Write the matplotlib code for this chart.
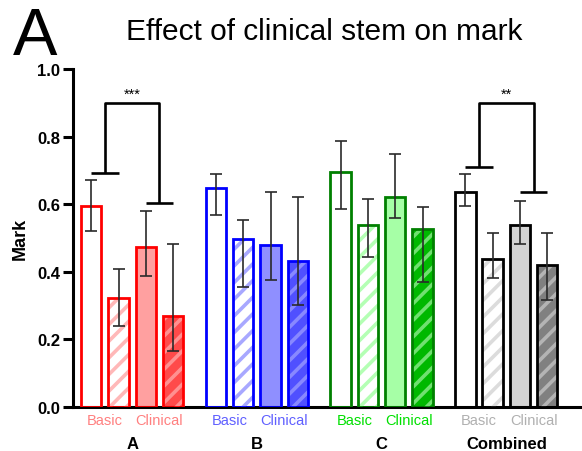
import matplotlib.pyplot as plt
import matplotlib.transforms as mtransforms

plt.rcParams['font.family'] = ['Liberation Sans', 'DejaVu Sans']
plt.rcParams['hatch.linewidth'] = 2.6

groups = ['A', 'B', 'C', 'Combined']
sub_labels = ['Basic', 'Clinical']

# bar heights (4 bars per group) and error bar ends
mean_a = [0.594, 0.322, 0.473, 0.268]
mean_b = [0.649, 0.497, 0.479, 0.433]
mean_c = [0.696, 0.538, 0.621, 0.527]
mean_comb = [0.637, 0.438, 0.538, 0.420]

upper_a = [0.670, 0.408, 0.581, 0.483]
upper_b = [0.689, 0.552, 0.636, 0.622]
upper_c = [0.787, 0.614, 0.749, 0.591]
upper_comb = [0.688, 0.516, 0.610, 0.516]

lower_a = [0.522, 0.240, 0.387, 0.166]
lower_b = [0.567, 0.356, 0.377, 0.303]
lower_c = [0.586, 0.443, 0.560, 0.369]
lower_comb = [0.595, 0.382, 0.481, 0.317]

means = [mean_a, mean_b, mean_c, mean_comb]
uppers = [upper_a, upper_b, upper_c, upper_comb]
lowers = [lower_a, lower_b, lower_c, lower_comb]

# styles per group: edge, fills for bars 1..4, hatch colours, label colour
edge_cols = ['#FF0000', '#0000FF', '#008000', '#000000']
fill_cols = [
    ['white', 'white', '#FFA0A0', '#FF4A4A'],
    ['white', 'white', '#8F8FFF', '#5050FF'],
    ['white', 'white', '#A6FFA6', '#00B800'],
    ['white', 'white', '#D3D3D3', '#808080'],
]
hatch_cols = [
    [None, '#FFB8B8', None, '#FF9090'],
    [None, '#A8A8FF', None, '#8888FF'],
    [None, '#B4FFB4', None, '#70E070'],
    [None, '#DCDCDC', None, '#B4B4B4'],
]
label_cols = ['#FF8080', '#6060FF', '#00E000', '#B0B0B0']

group_step = 4.575
width = 0.75

fig = plt.figure(figsize=(5.82, 4.52), dpi=100)
ax = fig.add_axes([0.1254, 0.0973, 0.8746, 0.748])

tick_pos = []
tick_lab = []
tick_col = []
for g in range(4):
    xs = [g * group_step + i for i in range(4)]
    ax.bar(xs, means[g], width, color=fill_cols[g], edgecolor='none', zorder=2)
    for i in range(4):
        if hatch_cols[g][i]:
            ax.bar(xs[i], means[g][i], width, facecolor='none',
                   edgecolor=hatch_cols[g][i], hatch='//', linewidth=0, zorder=3)
    ax.bar(xs, means[g], width, facecolor='none', edgecolor=edge_cols[g],
           linewidth=2, zorder=4)
    yerr = [[m - lo for m, lo in zip(means[g], lowers[g])],
            [hi - m for m, hi in zip(means[g], uppers[g])]]
    ax.errorbar(xs, means[g], yerr=yerr, fmt='none', ecolor='#2a2a2a',
                elinewidth=1.2, capsize=4.5, capthick=1.2, zorder=5)
    for k in range(2):
        tick_pos.append(g * group_step + 2 * k + 0.5)
        tick_lab.append(sub_labels[k])
        tick_col.append(label_cols[g])

# significance brackets
def bracket(g, y_left, y_right, y_top, stars):
    x0 = g * group_step
    xl, xr = x0 + 0.5, x0 + 2.5
    kw = dict(color='black', lw=1.9, solid_capstyle='butt', zorder=6, clip_on=False)
    ax.plot([x0, x0 + 1], [y_left, y_left], **kw)
    ax.plot([x0 + 2, x0 + 3], [y_right, y_right], **kw)
    ax.plot([xl, xl, xr, xr], [y_left, y_top, y_top, y_right], **kw)
    ax.text((xl + xr) / 2, y_top + 0.008, stars, ha='center', va='bottom',
            fontsize=10.5)

bracket(0, 0.692, 0.603, 0.899, '***')
bracket(3, 0.710, 0.635, 0.899, '**')

ax.set_xlim(-0.67, 18.0)
ax.set_ylim(0, 1.0)
ax.set_yticks([0.0, 0.2, 0.4, 0.6, 0.8, 1.0])
ax.set_yticklabels(['0.0', '0.2', '0.4', '0.6', '0.8', '1.0'],
                   fontsize=12, fontweight='bold')
ax.set_xticks(tick_pos)
ax.set_xticklabels(tick_lab, fontsize=10.5)
for t, c in zip(ax.get_xticklabels(), tick_col):
    t.set_color(c)
ax.tick_params(axis='x', length=0, pad=4)
ax.tick_params(axis='y', length=7, width=2.2, pad=2)

trans = mtransforms.blended_transform_factory(ax.transData, ax.transAxes)
for g in range(4):
    ax.text(g * group_step + 1.5, -0.107, groups[g], transform=trans,
            ha='center', va='center', fontsize=12, fontweight='bold')

for s in ['top', 'right']:
    ax.spines[s].set_visible(False)
ax.spines['left'].set_linewidth(2.2)
ax.spines['bottom'].set_linewidth(2.2)
ax.spines['left'].set_zorder(7)

ax.set_ylabel('Mark', fontsize=13, fontweight='bold', labelpad=6)

fig.text(0.5576, 0.930, 'Effect of clinical stem on mark', ha='center',
         va='center', fontsize=21.5)
fig.text(0.022, 0.916, 'A', ha='left', va='center', fontsize=48)

fig.savefig('out.png', dpi=100)
